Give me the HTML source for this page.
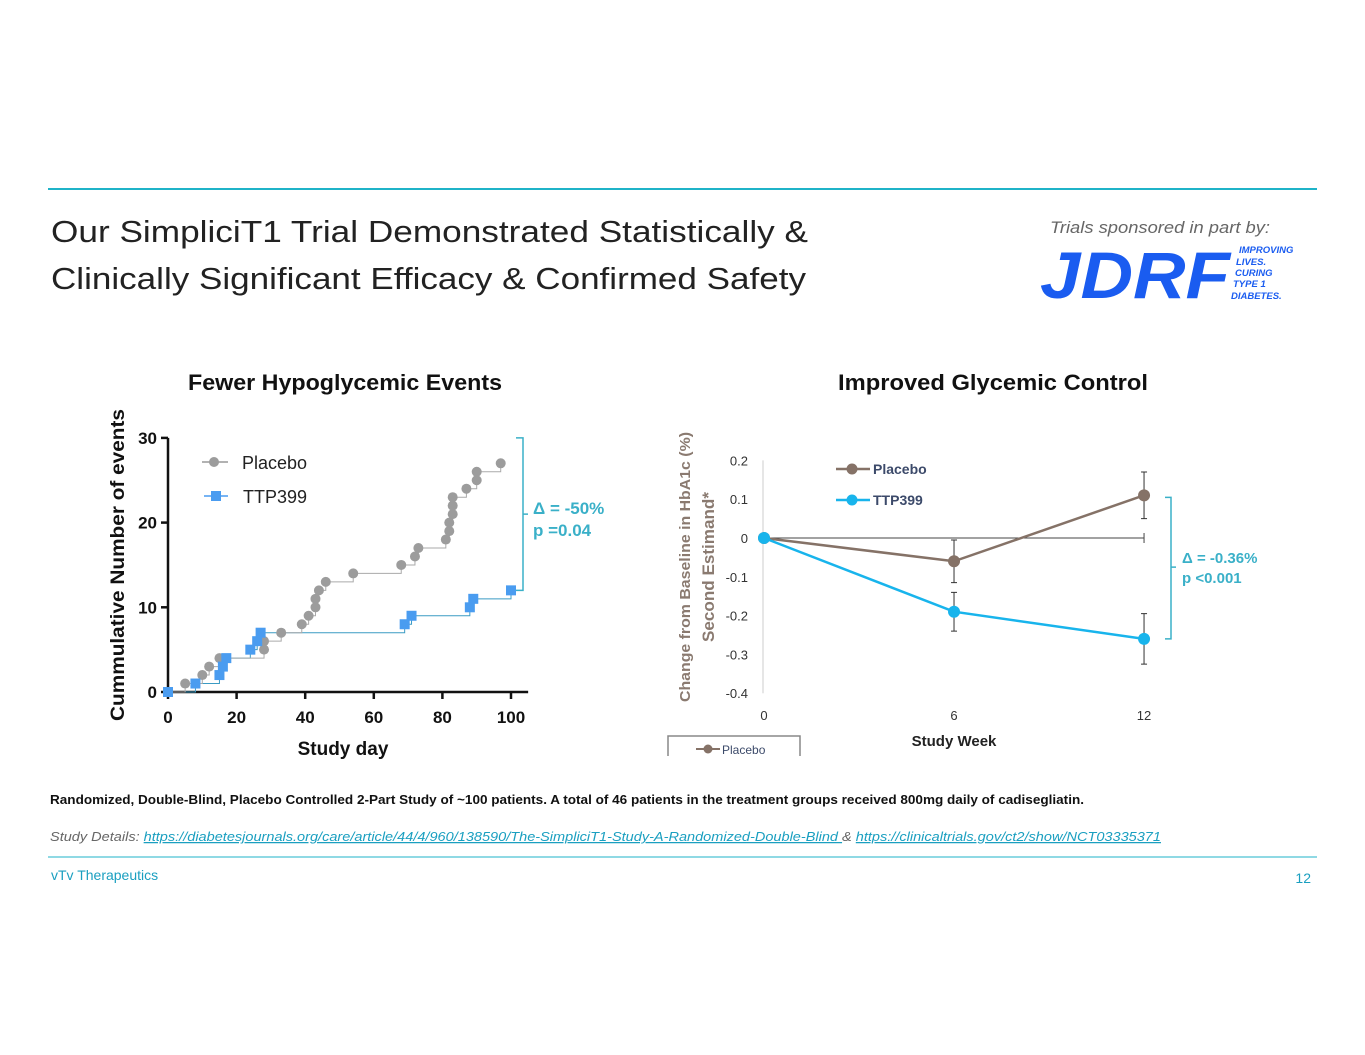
<!DOCTYPE html>
<html><head><meta charset="utf-8"><style>
html,body{margin:0;padding:0;background:#fff;}
svg{display:block;font-family:"Liberation Sans",sans-serif;}
</style></head><body>
<svg id="s" width="1365" height="1055" viewBox="0 0 1365 1055" xmlns="http://www.w3.org/2000/svg">
<line x1="48" y1="189" x2="1317" y2="189" stroke="#1fb3c8" stroke-width="2"/>
<text x="51" y="242" font-size="31" fill="#222" textLength="757" lengthAdjust="spacingAndGlyphs">Our SimpliciT1 Trial Demonstrated Statistically &amp;</text>
<text x="51" y="289" font-size="31" fill="#222" textLength="755" lengthAdjust="spacingAndGlyphs">Clinically Significant Efficacy &amp; Confirmed Safety</text>
<text x="1050" y="233" font-size="17" font-style="italic" fill="#666" textLength="220" lengthAdjust="spacingAndGlyphs">Trials sponsored in part by:</text>
<g>
<text x="1040" y="298" font-size="66" font-weight="bold" font-style="italic" fill="#1a5cf0" textLength="190" lengthAdjust="spacingAndGlyphs">JDRF</text>
<g font-size="9.5" font-weight="bold" font-style="italic" fill="#1a5cf0">
<text x="1239" y="253">IMPROVING</text><text x="1236" y="265">LIVES.</text><text x="1235" y="276">CURING</text><text x="1233" y="287">TYPE 1</text><text x="1231" y="299">DIABETES.</text></g></g>
<text x="345" y="390" font-size="22" font-weight="bold" fill="#111" text-anchor="middle" textLength="314" lengthAdjust="spacingAndGlyphs">Fewer Hypoglycemic Events</text>
<text x="993" y="390" font-size="22" font-weight="bold" fill="#111" text-anchor="middle" textLength="310" lengthAdjust="spacingAndGlyphs">Improved Glycemic Control</text>
<g id="left"></g>
<g id="right"></g>
<text x="50" y="804" font-size="12.5" font-weight="bold" fill="#111" textLength="1034" lengthAdjust="spacingAndGlyphs">Randomized, Double-Blind, Placebo Controlled 2-Part Study of ~100 patients. A total of 46 patients in the treatment groups received 800mg daily of cadisegliatin.</text>
<text x="50" y="841" font-size="12.5" font-style="italic" fill="#666" textLength="1111" lengthAdjust="spacingAndGlyphs">Study Details: <tspan fill="#1a9fc0" text-decoration="underline">https://diabetesjournals.org/care/article/44/4/960/138590/The-SimpliciT1-Study-A-Randomized-Double-Blind </tspan><tspan fill="#666">&amp; </tspan><tspan fill="#1a9fc0" text-decoration="underline">https://clinicaltrials.gov/ct2/show/NCT03335371</tspan></text>
<line x1="48" y1="857" x2="1317" y2="857" stroke="#1fb3c8" stroke-width="1"/>
<text x="51" y="880" font-size="14" fill="#1a9fc0">vTv Therapeutics</text>
<text x="1311" y="883" font-size="14" fill="#1a9fc0" text-anchor="end">12</text>
</svg>
<script>
// Left chart data
const placeboDays = [0,5,10,12,15,28,28,33,39,41,43,43,44,46,54,68,72,73,81,82,82,83,83,83,87,90,90,97];
const placeboCounts = [0,1,2,3,4,5,6,7,8,9,10,11,12,13,14,15,16,17,18,19,20,21,22,23,24,25,26,27];
const ttpDays = [0,8,15,16,17,24,26,27,69,71,88,89,100];
const ttpCounts = [0,1,2,3,4,5,6,7,8,9,10,11,12];
const dayTicks = [0,20,40,60,80,100];
const countTicks = [0,10,20,30];
// Right chart data
const weeks = [0,6,12];
const placeboHb = [0,-0.06,0.11];
const placeboErr = [0,0.055,0.06];
const ttpHb = [0,-0.19,-0.26];
const ttpErr = [0,0.05,0.065];
const hbTicks = [0.2,0.1,0,-0.1,-0.2,-0.3,-0.4];
const hbTickLabels = ["0.2","0.1","0","-0.1","-0.2","-0.3","-0.4"];

const NS="http://www.w3.org/2000/svg";
function mk(p,tag,a,txt){const e=document.createElementNS(NS,tag);for(const k in a)e.setAttribute(k,a[k]);if(txt!==undefined)e.textContent=txt;p.appendChild(e);return e;}

// LEFT
const L=document.getElementById('left');
const lx=d=>168+d*3.43, ly=c=>692-c*8.47;
let e;
e=mk(L,'path',{d:`M${lx(0)} ${ly(30)}V${ly(0)}H${lx(105)}`,stroke:'#111','stroke-width':2.5,fill:'none'});


dayTicks.forEach(t=>{mk(L,'line',{x1:lx(t),x2:lx(t),y1:ly(0),y2:ly(0)+7,stroke:'#111','stroke-width':2.5});
e=mk(L,'text',{x:lx(t),y:723,'font-size':17,'font-weight':'bold','text-anchor':'middle',fill:'#111'},t);

});
countTicks.forEach(t=>{mk(L,'line',{x1:lx(0)-7,x2:lx(0),y1:ly(t),y2:ly(t),stroke:'#111','stroke-width':2.5});
e=mk(L,'text',{x:157,y:ly(t)+6,'font-size':17,'font-weight':'bold','text-anchor':'end',fill:'#111'},t);

});
e=mk(L,'text',{x:343,y:755,'font-size':19,'font-weight':'bold','text-anchor':'middle',fill:'#111'},'Study day');


e=mk(L,'text',{transform:'translate(124,565) rotate(-90)','font-size':19,'font-weight':'bold','text-anchor':'middle',fill:'#111',textLength:312,lengthAdjust:'spacingAndGlyphs'},'Cummulative Number of events');


function steps(days,counts){let d=`M${lx(days[0])} ${ly(counts[0])}`;for(let i=1;i<days.length;i++){d+=`H${lx(days[i])}V${ly(counts[i])}`;}return d;}
e=mk(L,'path',{d:steps(ttpDays,ttpCounts),stroke:'#3a9bc4','stroke-width':1,fill:'none'});


e=mk(L,'path',{d:steps(placeboDays,placeboCounts),stroke:'#aaa','stroke-width':1,fill:'none'});


placeboDays.forEach((d,i)=>{e=mk(L,'circle',{cx:lx(d),cy:ly(placeboCounts[i]),r:5,fill:'#9c9c9c'});

});
ttpDays.forEach((d,i)=>{e=mk(L,'rect',{x:lx(d)-5,y:ly(ttpCounts[i])-5,width:10,height:10,fill:'#4a9cf0'});

});
// legend
mk(L,'line',{x1:202,x2:228,y1:462,y2:462,stroke:'#999','stroke-width':1.5});mk(L,'circle',{cx:214,cy:462,r:5,fill:'#9c9c9c'});
e=mk(L,'text',{x:242,y:469,'font-size':18,fill:'#222'},'Placebo');
mk(L,'line',{x1:204,x2:228,y1:496,y2:496,stroke:'#4a9cf0','stroke-width':1.5});mk(L,'rect',{x:211,y:491,width:10,height:10,fill:'#4a9cf0'});
e=mk(L,'text',{x:243,y:503,'font-size':18,fill:'#222'},'TTP399');
e=mk(L,'path',{d:`M516 ${ly(30)}H523V${ly(12)}H516M523 ${(ly(30)+ly(12))/2}H528`,stroke:'#3ab0c8','stroke-width':1.5,fill:'none'});

e=mk(L,'text',{x:533,y:514,'font-size':17,'font-weight':'bold',fill:'#3ab0c8'},'Δ = -50%');
e=mk(L,'text',{x:533,y:536,'font-size':17,'font-weight':'bold',fill:'#3ab0c8'},'p =0.04');

// RIGHT
const R=document.getElementById('right');
const rx=w=>764+w*31.67, ry=v=>538-v*388;
mk(R,'line',{x1:763,x2:763,y1:ry(0.2),y2:ry(-0.4),stroke:'#ccc','stroke-width':1});
mk(R,'line',{x1:rx(0),x2:rx(12),y1:ry(0),y2:ry(0),stroke:'#444','stroke-width':1});
mk(R,'line',{x1:rx(12),x2:rx(12),y1:ry(0)-5,y2:ry(0)+5,stroke:'#444','stroke-width':1});
hbTicks.forEach((t,i)=>{e=mk(R,'text',{x:748,y:ry(t)+5,'font-size':13,'text-anchor':'end',fill:'#333'},hbTickLabels[i]);
});
weeks.forEach(w=>{e=mk(R,'text',{x:rx(w),y:720,'font-size':13,'text-anchor':'middle',fill:'#333'},w);
});
e=mk(R,'text',{x:954,y:746,'font-size':15,'font-weight':'bold','text-anchor':'middle',fill:'#222'},'Study Week');

e=mk(R,'text',{transform:'translate(690,567) rotate(-90)','font-size':15,'font-weight':'bold','text-anchor':'middle',fill:'#8a7a70',textLength:270,lengthAdjust:'spacingAndGlyphs'},'Change from Baseline in HbA1c (%)');

e=mk(R,'text',{transform:'translate(714,567) rotate(-90)','font-size':17,'font-weight':'bold','text-anchor':'middle',fill:'#8a7a70',textLength:150,lengthAdjust:'spacingAndGlyphs'},'Second Estimand*');

function series(vals,errs,col,name){
 vals.forEach((v,i)=>{if(errs[i]>0){const x=rx(weeks[i]);
  e=mk(R,'path',{d:`M${x} ${ry(v+errs[i])}V${ry(v-errs[i])}M${x-3} ${ry(v+errs[i])}H${x+3}M${x-3} ${ry(v-errs[i])}H${x+3}`,stroke:'#333','stroke-width':1,fill:'none'});
  }});
 e=mk(R,'polyline',{points:vals.map((v,i)=>rx(weeks[i])+','+ry(v)).join(' '),stroke:col,'stroke-width':2.5,fill:'none'});
 
 vals.forEach((v,i)=>{e=mk(R,'circle',{cx:rx(weeks[i]),cy:ry(v),r:6,fill:col});
 });
}
series(placeboHb,placeboErr,'#857267','placebo');
series(ttpHb,ttpErr,'#18b4ec','ttp399');
mk(R,'line',{x1:836,x2:870,y1:469,y2:469,stroke:'#857267','stroke-width':2.5});mk(R,'circle',{cx:852,cy:469,r:5.5,fill:'#857267'});
e=mk(R,'text',{x:873,y:474,'font-size':14,'font-weight':'bold',fill:'#3c4a6a'},'Placebo');
mk(R,'line',{x1:836,x2:870,y1:500,y2:500,stroke:'#18b4ec','stroke-width':2.5});mk(R,'circle',{cx:852,cy:500,r:5.5,fill:'#18b4ec'});
e=mk(R,'text',{x:873,y:505,'font-size':14,'font-weight':'bold',fill:'#3c4a6a'},'TTP399');
e=mk(R,'path',{d:`M1165 ${ry(0.11)+2}H1171V${ry(-0.26)}H1165M1171 ${(ry(0.11)+ry(-0.26))/2}H1176`,stroke:'#3ab0c8','stroke-width':1.5,fill:'none'});

e=mk(R,'text',{x:1182,y:563,'font-size':15,'font-weight':'bold',fill:'#3ab0c8'},'Δ = -0.36%');
e=mk(R,'text',{x:1182,y:583,'font-size':15,'font-weight':'bold',fill:'#3ab0c8'},'p <0.001');
e=mk(R,'path',{d:'M668 756V736H800V756',stroke:'#888','stroke-width':1.5,fill:'none'});

mk(R,'line',{x1:696,x2:720,y1:749,y2:749,stroke:'#857267','stroke-width':2});mk(R,'circle',{cx:708,cy:749,r:4.5,fill:'#857267'});
e=mk(R,'text',{x:722,y:754,'font-size':12,fill:'#3c4a6a'},'Placebo');
</script>
</body></html>
